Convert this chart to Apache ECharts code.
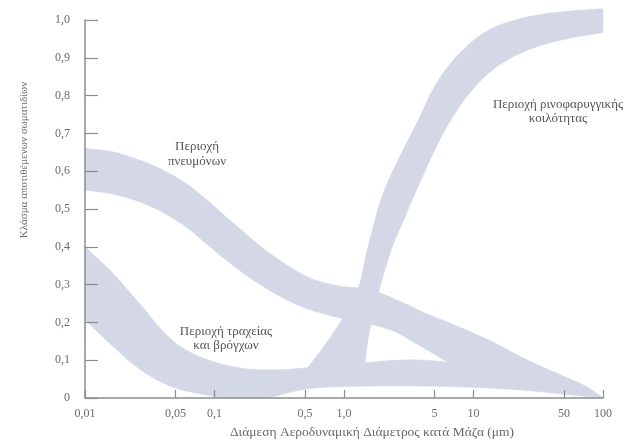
<!DOCTYPE html>
<html>
<head>
<meta charset="utf-8">
<script src="https://cdn.jsdelivr.net/npm/echarts@6/dist/echarts.min.js"></script>
<style>
  html, body { margin: 0; padding: 0; background: #fff; }
  #chart { width: 639px; height: 446px; }
</style>
</head>
<body>
<div id="chart"></div>
<script>
// Deposition fraction bands vs. mass median aerodynamic diameter (µm).
// Each band is given by its two edges as [diameter, fraction] pairs.

// Pulmonary (alveolar) region
const pulmUpper = [[0.01, 0.66], [0.016, 0.652], [0.024, 0.634], [0.038, 0.607], [0.06, 0.568], [0.09, 0.52],
  [0.14, 0.462], [0.22, 0.405], [0.35, 0.355], [0.55, 0.317], [0.9, 0.297], [1.6, 0.286], [2.7, 0.256],
  [4.2, 0.225], [6.6, 0.198], [13, 0.154], [23, 0.11], [41, 0.07], [75, 0.03], [100, 0.0]];
const pulmLower = [[0.01, 0.55], [0.016, 0.54], [0.024, 0.524], [0.038, 0.495], [0.06, 0.453], [0.09, 0.403],
  [0.14, 0.35], [0.22, 0.302], [0.35, 0.262], [0.55, 0.233], [0.93, 0.212], [1.6, 0.196], [2.5, 0.175],
  [3.5, 0.146], [4.8, 0.119], [6.4, 0.095], [13, 0.061], [33, 0.032], [100, 0.0]];

// Small-particle band falling into the low tracheo-bronchial strip
const lowUpper = [[0.01, 0.40], [0.016, 0.334], [0.027, 0.246], [0.045, 0.159], [0.077, 0.109], [0.16, 0.079],
  [0.32, 0.075], [0.52, 0.08], [1.45, 0.093], [3.1, 0.101], [6.4, 0.095], [23, 0.074], [56, 0.042], [100, 0.0]];
const lowLower = [[0.01, 0.207], [0.016, 0.14], [0.027, 0.074], [0.045, 0.032], [0.077, 0.011], [0.13, 0.0],
  [0.25, 0.0], [0.46, 0.021], [0.78, 0.029], [2.7, 0.032], [8.6, 0.029], [23, 0.021], [56, 0.008], [100, 0.0]];

// Naso-pharyngeal region (rising with particle size)
const nasoLeft = [[0.42, 0.04], [0.65, 0.122], [0.93, 0.199], [1.15, 0.26], [1.33, 0.305], [1.48, 0.379],
  [1.67, 0.45], [1.93, 0.525], [2.31, 0.591], [2.86, 0.657], [3.66, 0.728], [5.2, 0.834], [7.9, 0.914],
  [13.4, 0.975], [27, 1.009], [53, 1.023], [100, 1.03]];
const nasoRight = [[1.3, 0.04], [1.45, 0.093], [1.53, 0.154], [1.65, 0.207], [1.83, 0.273], [2.07, 0.339],
  [2.39, 0.405], [2.86, 0.466], [3.24, 0.511], [4.37, 0.612], [6.24, 0.718], [9.4, 0.808], [15.2, 0.877],
  [27, 0.922], [49, 0.948], [100, 0.967]];

// Axis ticks
const xTicks = [0.01, 0.05, 0.1, 0.5, 1, 5, 10, 50, 100];
const xTickLabels = ['0,01', '0,05', '0,1', '0,5', '1,0', '5', '10', '50', '100'];

const BAND = '#d3d7e6';
const TEXT = '#6a6a6a';
const AXIS = '#8c8c8c';
const SERIF = '"Liberation Serif", "DejaVu Serif", serif';

function band(name, edgeA, edgeB) {
  const ring = edgeA.concat(edgeB.slice().reverse());
  const nA = edgeA.length;
  return {
    type: 'custom',
    name: name,
    clip: false,
    silent: true,
    data: ring,
    encode: { x: 0, y: 1 },
    renderItem: function (params, api) {
      if (params.dataIndex !== 0) return null;
      const pts = [];
      ring.forEach(function (p, i) {
        const q = api.coord(p);
        pts.push(q);
        // repeat the end points of each edge so the end caps stay sharp
        if (i === 0 || i === nA - 1 || i === nA || i === ring.length - 1) pts.push(q.slice());
      });
      let minX = Infinity, minY = Infinity, maxX = -Infinity, maxY = -Infinity;
      pts.forEach(function (q) {
        minX = Math.min(minX, q[0]); maxX = Math.max(maxX, q[0]);
        minY = Math.min(minY, q[1]); maxY = Math.max(maxY, q[1]);
      });
      return {
        type: 'polygon',
        shape: { points: pts, smooth: 0.35, smoothConstraint: [[minX, minY], [maxX, maxY]] },
        style: { fill: BAND, stroke: BAND, lineWidth: 0.5 }
      };
    }
  };
}

const chart = echarts.init(document.getElementById('chart'), null, { renderer: 'canvas' });

chart.setOption({
  animation: false,
  backgroundColor: '#ffffff',
  grid: { left: 85, right: 36, top: 20, bottom: 48 },
  xAxis: {
    type: 'log',
    logBase: 10,
    min: 0.01,
    max: 100,
    z: 5,
    axisLine: { show: true, lineStyle: { color: AXIS, width: 1.5 } },
    axisTick: { show: true, inside: true, length: 8, customValues: xTicks, lineStyle: { color: AXIS, width: 1.2 } },
    minorTick: { show: false },
    splitLine: { show: false },
    axisLabel: {
      customValues: xTicks,
      margin: 10,
      color: TEXT,
      fontFamily: SERIF,
      fontSize: 12,
      formatter: function (v) {
        const i = xTicks.findIndex(function (t) { return Math.abs(t - v) / t < 1e-6; });
        return i >= 0 ? xTickLabels[i] : '';
      }
    }
  },
  yAxis: {
    type: 'value',
    min: 0,
    max: 1,
    interval: 0.1,
    z: 5,
    axisLine: { show: true, lineStyle: { color: AXIS, width: 1.5 } },
    axisTick: { show: true, inside: true, length: 13, lineStyle: { color: AXIS, width: 1.2 } },
    splitLine: { show: false },
    axisLabel: {
      margin: 15,
      color: TEXT,
      fontFamily: SERIF,
      fontSize: 12,
      formatter: function (v) {
        return v === 0 ? '0' : v.toFixed(1).replace('.', ',');
      }
    }
  },
  series: [
    band('Περιοχή πνευμόνων', pulmUpper, pulmLower),
    band('Περιοχή τραχείας και βρόγχων', lowUpper, lowLower),
    band('Περιοχή ρινοφαρυγγικής κοιλότητας', nasoLeft, nasoRight)
  ],
  graphic: [
    {
      type: 'text',
      style: {
        x: 197, y: 154, text: 'Περιοχή\nπνευμόνων', align: 'center', verticalAlign: 'middle',
        fill: '#555', font: '13px ' + SERIF, lineHeight: 15
      }
    },
    {
      type: 'text',
      style: {
        x: 558, y: 112, text: 'Περιοχή ρινοφαρυγγικής\nκοιλότητας', align: 'center', verticalAlign: 'middle',
        fill: '#555', font: '13px ' + SERIF, lineHeight: 14
      }
    },
    {
      type: 'text',
      style: {
        x: 226, y: 339, text: 'Περιοχή τραχείας\nκαι βρόγχων', align: 'center', verticalAlign: 'middle',
        fill: '#555', font: '13px ' + SERIF, lineHeight: 14
      }
    },
    {
      type: 'text',
      x: 24, y: 160, rotation: Math.PI / 2,
      style: {
        x: 0, y: 0, text: 'Κλάσμα αποτιθέμενων σωματιδίων', align: 'center', verticalAlign: 'middle',
        fill: TEXT, font: '11px ' + SERIF
      }
    },
    {
      type: 'text',
      style: {
        x: 372, y: 432, text: 'Διάμεση Αεροδυναμική Διάμετρος κατά Μάζα (μm)', align: 'center', verticalAlign: 'middle',
        fill: TEXT, font: '13.5px ' + SERIF
      }
    }
  ]
});
</script>
</body>
</html>
